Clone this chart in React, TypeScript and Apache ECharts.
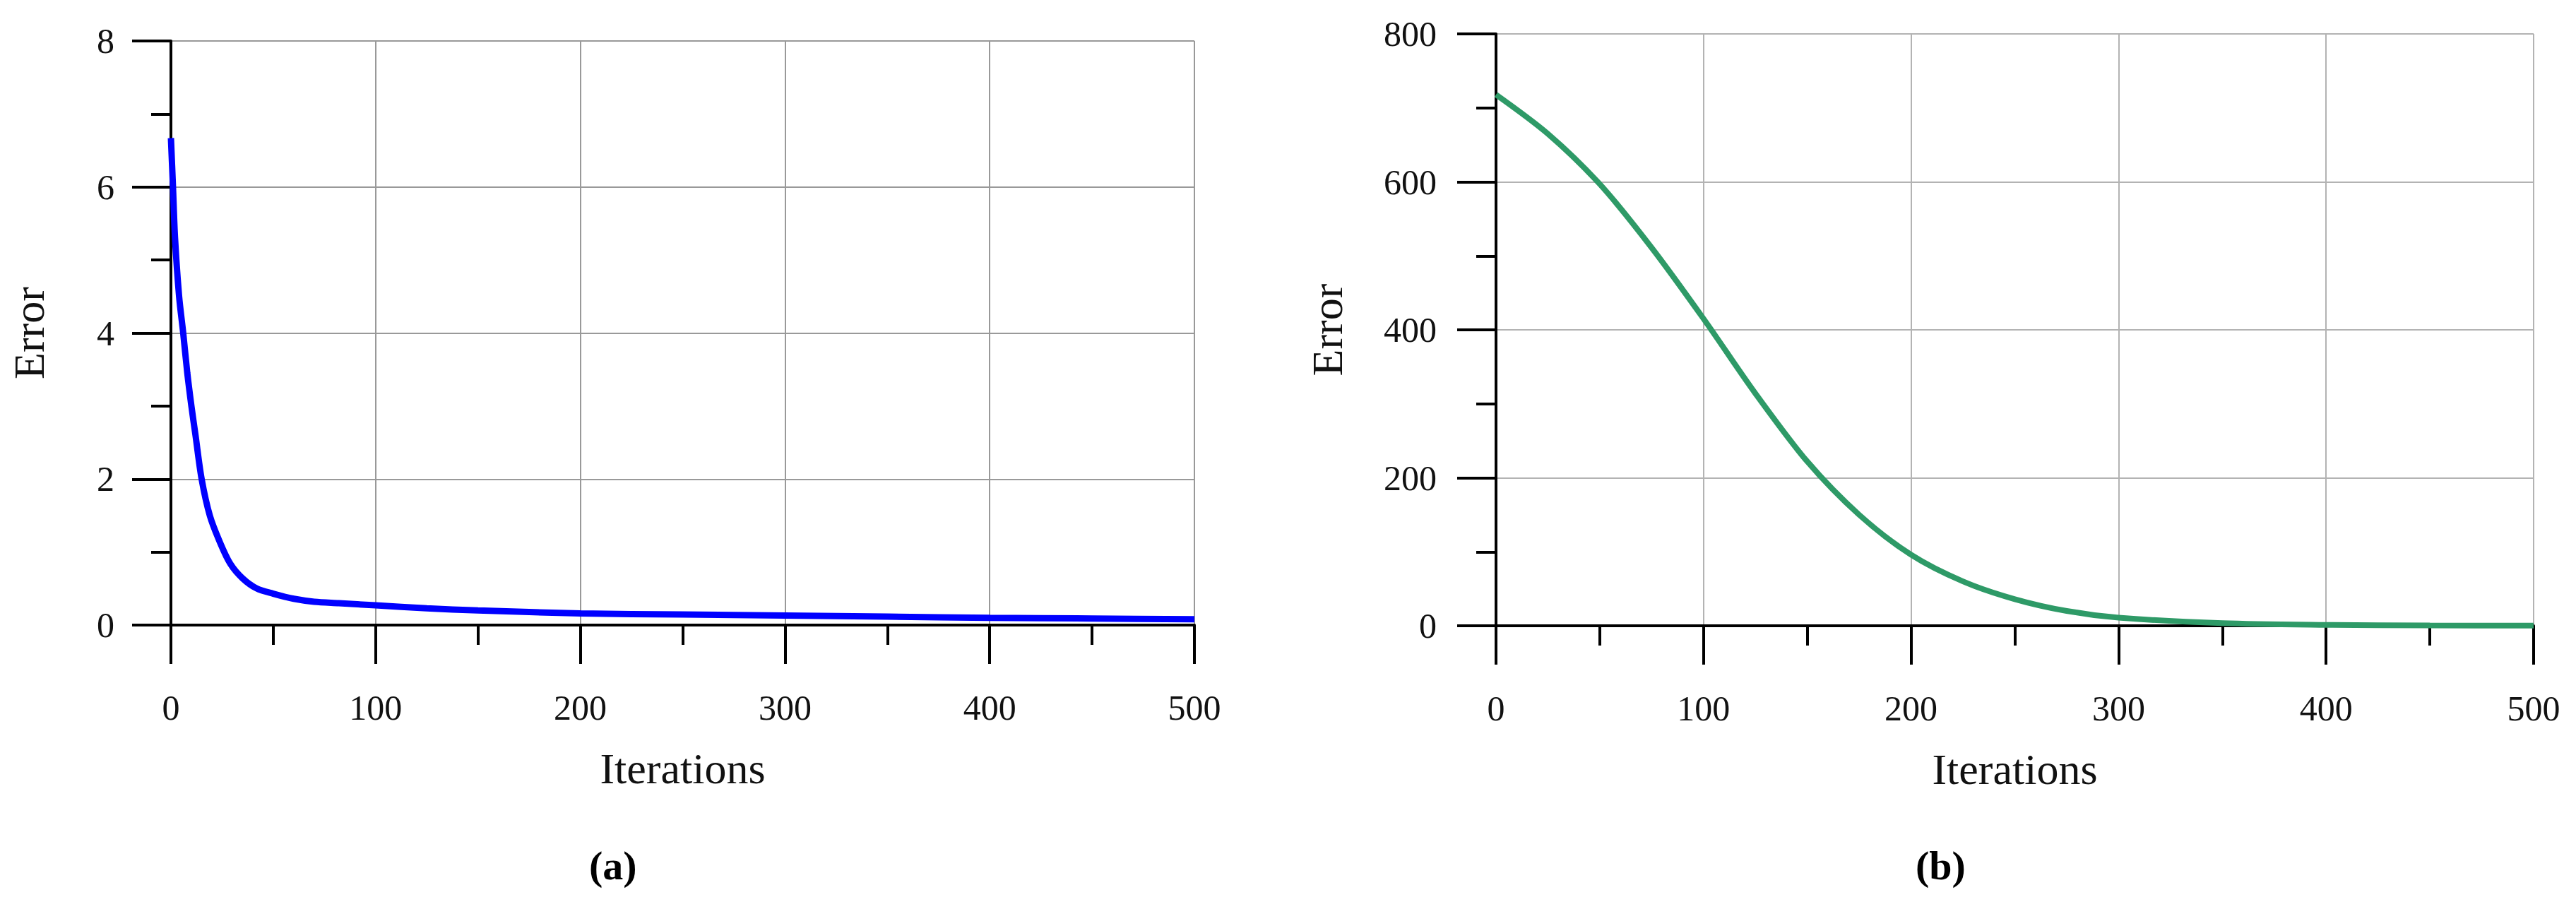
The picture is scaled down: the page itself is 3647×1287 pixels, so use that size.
import React, { useEffect, useRef } from "react";
import * as echarts from "echarts";

// ---- data ----
const iterA = [0, 1, 2, 4, 6, 8, 10, 12, 15, 19, 24, 29, 35, 42, 50, 60, 70, 82, 100, 125, 150, 200, 250, 300, 350, 400, 450, 500];
const errorA = [6.67, 6.0, 5.3, 4.5, 4.0, 3.45, 3.0, 2.6, 2.0, 1.5, 1.13, 0.84, 0.64, 0.5, 0.43, 0.36, 0.32, 0.3, 0.27, 0.23, 0.2, 0.16, 0.145, 0.13, 0.115, 0.1, 0.09, 0.08];

const iterB = [0, 25, 50, 75, 100, 125, 150, 175, 200, 225, 250, 275, 300, 350, 400, 450, 500];
const errorB = [718, 665, 597, 511, 415, 314, 222, 150, 96, 60, 36, 20, 11, 3.5, 1.2, 0.4, 0.2];

const xTicks = { min: 0, max: 500, interval: 100 };
const yTicksA = { min: 0, max: 8, interval: 2 };
const yTicksB = { min: 0, max: 800, interval: 200 };

const xName = "Iterations";
const yName = "Error";
const panelLabels = ["(a)", "(b)"];

const FONT = "Liberation Serif";

function axisCommon(gridColor: string) {
  return {
    axisLine: { show: true, onZero: false, lineStyle: { color: "#000", width: 4 } },
    axisTick: { show: true, length: 55, lineStyle: { color: "#000", width: 4 } },
    minorTick: { show: true, splitNumber: 2, length: 28, lineStyle: { color: "#000", width: 4 } },
    splitLine: { show: true, lineStyle: { color: gridColor, width: 2 } },
    axisLabel: { color: "#111", fontFamily: FONT, fontSize: 50 },
    nameTextStyle: { color: "#111", fontFamily: FONT, fontSize: 62 },
  };
}

export default function App() {
  const ref = useRef<HTMLDivElement>(null);
  useEffect(() => {
    if (!ref.current) return;
    const chart = echarts.init(ref.current, undefined, { renderer: "svg" });
    const cA = axisCommon("#999999");
    const cB = axisCommon("#b3b3b3");
    chart.setOption({
      animation: false,
      backgroundColor: "#ffffff",
      grid: [
        { left: 242, top: 58, width: 1449, height: 827 },
        { left: 2118, top: 48, width: 1469, height: 838 },
      ],
      xAxis: [
        {
          type: "value", gridIndex: 0, ...xTicks, ...cA,
          axisLabel: { ...cA.axisLabel, margin: 92 },
          name: xName, nameLocation: "middle", nameGap: 172,
        },
        {
          type: "value", gridIndex: 1, ...xTicks, ...cB,
          axisLabel: { ...cB.axisLabel, margin: 92 },
          name: xName, nameLocation: "middle", nameGap: 172,
        },
      ],
      yAxis: [
        {
          type: "value", gridIndex: 0, ...yTicksA, ...cA,
          axisLabel: { ...cA.axisLabel, margin: 80 },
          name: yName, nameLocation: "middle", nameGap: 170, nameRotate: 90,
        },
        {
          type: "value", gridIndex: 1, ...yTicksB, ...cB,
          axisLabel: { ...cB.axisLabel, margin: 84 },
          name: yName, nameLocation: "middle", nameGap: 208, nameRotate: 90,
        },
      ],
      series: [
        {
          type: "line", xAxisIndex: 0, yAxisIndex: 0, smooth: 0.3, showSymbol: false,
          lineStyle: { color: "#0000ff", width: 9 },
          data: iterA.map((x, i) => [x, errorA[i]]),
        },
        {
          type: "line", xAxisIndex: 1, yAxisIndex: 1, smooth: 0.3, showSymbol: false,
          lineStyle: { color: "#2e9a67", width: 8 },
          data: iterB.map((x, i) => [x, errorB[i]]),
        },
      ],
      graphic: [
        {
          type: "text", left: 834, top: 1196,
          style: { text: panelLabels[0], font: `bold 58px '${FONT}'`, fill: "#000" },
        },
        {
          type: "text", left: 2712, top: 1196,
          style: { text: panelLabels[1], font: `bold 58px '${FONT}'`, fill: "#000" },
        },
      ],
    });
    return () => chart.dispose();
  }, []);
  return (
    <div
      ref={ref}
      style={{ position: "fixed", left: 0, top: 0, width: 3647, height: 1287, background: "#fff" }}
    />
  );
}
